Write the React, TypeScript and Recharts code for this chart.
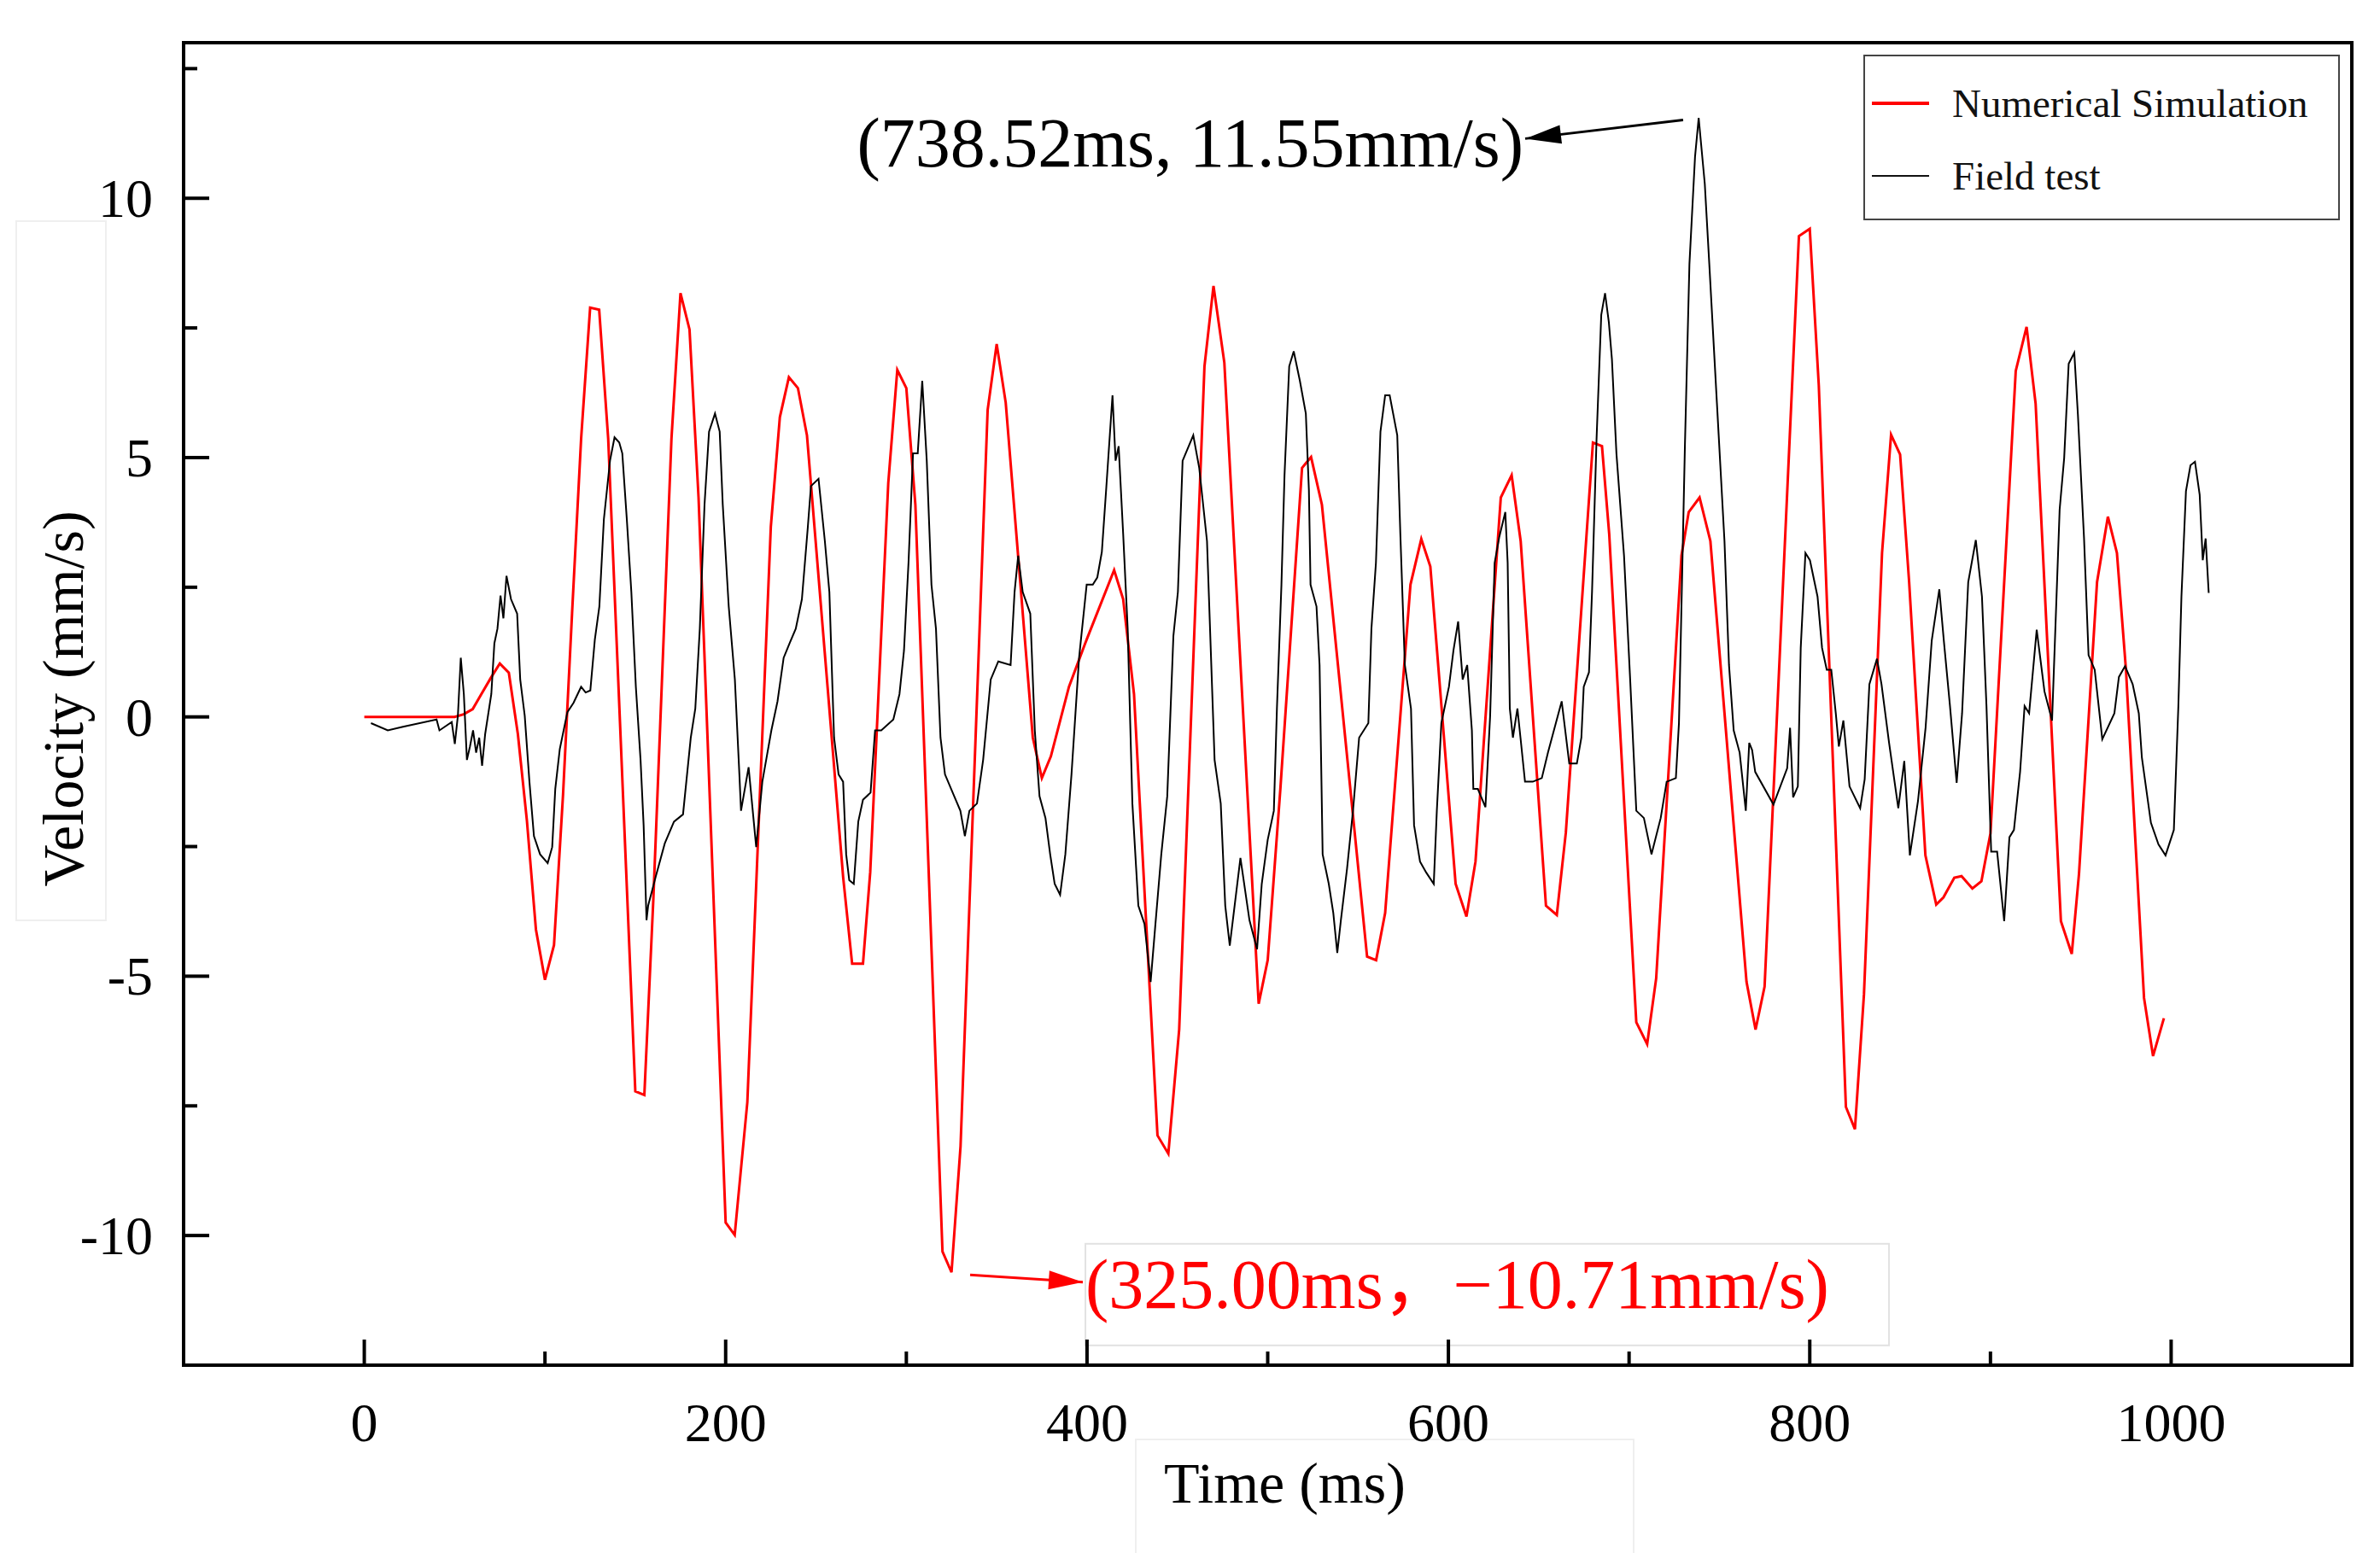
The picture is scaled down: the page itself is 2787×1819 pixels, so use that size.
import React from 'react';
import {
  LineChart,
  Line,
  XAxis,
  YAxis,
  ReferenceArea,
  ReferenceLine,
  Legend,
  Label
} from 'recharts';

// Numerical simulation (red) - time in ms, velocity in mm/s
const simTime = [
  0, 50, 55, 60, 65, 70, 75, 80, 85, 90, 95, 100, 105, 110, 115, 120, 125, 130, 135, 150,
  155, 160, 170, 175, 180, 185, 200, 205, 212, 225, 230, 235, 240, 245, 265, 270, 276, 280, 290, 295,
  300, 305, 320, 325, 330, 345, 350, 355, 370, 375, 380, 390, 399, 415, 420, 426, 439, 445, 451, 465,
  470, 476, 495, 500, 507, 519, 524, 530, 555, 560, 565, 579, 585, 590, 604, 610, 615, 629, 635, 640,
  654, 660, 665, 680, 685, 689, 704, 710, 715, 729, 733, 739, 745, 765, 770, 775, 794, 800, 805, 820,
  825, 830, 840, 845, 850, 855, 864, 870, 874, 880, 884, 890, 895, 900, 914, 920, 925, 939, 945, 949,
  959, 965, 970, 975, 985, 990, 996
];
const simVelocity = [
  0, 0, 0.05, 0.15, 0.45, 0.75, 1.03, 0.85, -0.33, -2.0, -4.1, -5.07, -4.4, -1.5, 2.0, 5.36, 7.89, 7.85, 5.36, -7.22,
  -7.29, -3.5, 5.36, 8.17, 7.47, 4.23, -9.75, -9.99, -7.43, 3.67, 5.78, 6.55, 6.34, 5.43, -3.08, -4.76, -4.76, -3.0, 4.51, 6.69,
  6.34, 4.09, -10.31, -10.71, -8.28, 5.92, 7.19, 6.06, -0.4, -1.18, -0.76, 0.58, 1.42, 2.83, 2.27, 0.44, -8.07, -8.42, -6.03, 6.76,
  8.31, 6.83, -5.53, -4.69, -1.39, 4.8, 5.01, 4.09, -4.62, -4.69, -3.78, 2.55, 3.43, 2.9, -3.22, -3.85, -2.79, 4.23, 4.66, 3.39,
  -3.64, -3.82, -2.23, 5.29, 5.22, 3.53, -5.89, -6.31, -5.04, 3.11, 3.95, 4.23, 3.39, -5.11, -6.03, -5.2, 9.27, 9.41, 6.39, -7.52,
  -7.95, -5.35, 3.16, 5.44, 5.06, 2.6, -2.67, -3.62, -3.48, -3.1, -3.07, -3.31, -3.17, -2.25, 6.67, 7.52, 6.04, -3.94, -4.57, -3.03,
  2.6, 3.86, 3.16, 0.91, -5.42, -6.54, -5.81
];

// Field test (black)
const fieldTime = [
  3.7, 13, 21.4, 40, 41.6, 48.4, 50.1, 51.8, 53.4, 55.1, 56.8, 58.5, 60.2, 61.9, 63.6, 65.2, 66.9, 70.3, 72, 73.7,
  75.4, 77, 78.7, 81.2, 84.6, 86.3, 88.8, 91.4, 93.9, 97.3, 101.5, 104, 105.7, 108.2, 112.4, 115.8, 120, 122.5, 125.1, 127.6,
  130.1, 132.6, 136, 138.5, 141.1, 142.8, 145.3, 147.8, 150.3, 152.9, 154.6, 156.2, 157.1, 161.3, 166.3, 171.4, 176.4, 180.7, 183.2, 185.7,
  188.3, 190.8, 194.1, 196.7, 198.4, 201.7, 205.1, 207.6, 208.5, 212.7, 216.9, 220.3, 225.3, 228.7, 232.1, 235.4, 238.8, 242.2, 245.5, 247.2,
  251.4, 254.9, 257.4, 260, 262.5, 265, 266.7, 268.4, 270.9, 273.4, 276, 280.2, 282.7, 286.1, 292.8, 296.2, 298.7, 301.2, 303.7, 306.3,
  308.8, 311.3, 313.9, 316.4, 318.9, 321.4, 326.5, 329.9, 332.4, 334.9, 339.1, 342.5, 346.7, 350.9, 357.7, 359.9, 361.9, 364.4, 368.6, 371.1,
  373.7, 377, 379.6, 382.1, 385.1, 388, 391.4, 395.6, 399.8, 403.2, 405.7, 408.2, 410.7, 414.1, 415.8, 417.5, 420, 422.5, 425.1, 428.4,
  431.8, 435.2, 437.7, 441.1, 444.4, 447.8, 450.3, 452.9, 458.8, 462.1, 466.4, 470.6, 474, 476.5, 479, 484.9, 489.9, 494.1, 496.7, 500,
  503.4, 505.1, 507.6, 509.3, 511.9, 514.4, 517.8, 521.1, 522.8, 523.7, 527, 528.7, 530.4, 533.8, 536.3, 538.5, 540.5, 543.9, 547.2, 550.6,
  555.7, 557.4, 559.9, 562.4, 565, 567.5, 571.7, 573.4, 575.9, 579.3, 581, 584.3, 587.7, 591.9, 593.6, 596.1, 600.3, 602.8, 605.4, 607.9,
  610.4, 613, 613.8, 616.3, 620.5, 623.1, 625.6, 628.1, 631.5, 632.8, 634, 635.7, 638.2, 639.9, 642.4, 646.7, 651.7, 655.1, 662.7, 666.9,
  671.1, 673.6, 674.9, 677.8, 679.5, 682, 684.6, 686.7, 688.8, 690.5, 693, 697.2, 700.6, 704, 708.2, 712.4, 717.5, 720.8, 725.9, 727.6,
  730.9, 733.4, 736.5, 738.52, 741.9, 744.4, 748.6, 752.8, 755.3, 757.9, 761.2, 764.6, 766.5, 768.1, 769.8, 779.9, 787.5, 789.1, 790.8, 793.4,
  795, 797.6, 800.1, 804.3, 806.8, 809.4, 811.9, 814.4, 816.1, 818.6, 822, 827.9, 830.4, 833, 837.2, 839.7, 843.9, 849, 852.3, 855.4,
  859.9, 864.1, 867.5, 871.7, 874.2, 877.6, 881.3, 884.3, 887.7, 891.9, 895.3, 897.8, 900.4, 903.7, 907.6, 910.5, 913, 916.4, 918.9, 921.4,
  925.6, 929.9, 934.1, 938.3, 940.8, 943.3, 946.4, 948.4, 951.8, 954.3, 957.7, 961.9, 968.6, 971.1, 974.5, 978.7, 982.1, 983.8, 988.8, 993,
  996.9, 1001.5, 1004, 1005.7, 1008.2, 1010.7, 1013.2, 1015.8, 1017.5, 1019.1, 1020.8
];
const fieldVelocity = [
  -0.12, -0.26, -0.19, -0.05, -0.26, -0.1, -0.52, 0.02, 1.14, 0.44, -0.83, -0.57, -0.26, -0.69, -0.4, -0.94, -0.33, 0.44, 1.42, 1.7,
  2.34, 1.9, 2.72, 2.27, 1.99, 0.72, 0.02, -1.25, -2.3, -2.65, -2.82, -2.51, -1.39, -0.62, 0.09, 0.27, 0.58, 0.47, 0.51, 1.49,
  2.13, 3.81, 4.94, 5.39, 5.29, 5.08, 3.81, 2.41, 0.58, -0.83, -2.09, -3.92, -3.64, -3.08, -2.44, -2.02, -1.88, -0.4, 0.16, 1.7,
  4.09, 5.5, 5.85, 5.5, 4.09, 2.13, 0.72, -1.11, -1.81, -0.97, -2.51, -1.25, -0.26, 0.3, 1.14, 1.42, 1.7, 2.27, 3.67, 4.45,
  4.59, 3.39, 2.41, -0.4, -1.11, -1.25, -2.65, -3.15, -3.22, -2.02, -1.6, -1.46, -0.26, -0.26, -0.05, 0.44, 1.28, 2.97, 5.08, 5.08,
  6.48, 4.94, 2.55, 1.7, -0.4, -1.11, -1.53, -1.81, -2.3, -1.81, -1.67, -0.83, 0.72, 1.07, 1.0, 2.41, 3.11, 2.41, 1.99, -0.26,
  -1.53, -1.95, -2.65, -3.22, -3.43, -2.65, -1.11, 1.14, 2.55, 2.55, 2.69, 3.18, 4.44, 6.2, 4.94, 5.22, 3.53, 1.7, -1.67, -3.64,
  -3.99, -5.11, -4.06, -2.65, -1.53, 1.56, 2.41, 4.94, 5.43, 4.8, 3.39, -0.83, -1.67, -3.64, -4.41, -2.72, -3.92, -4.48, -3.22, -2.37,
  -1.81, 0.16, 2.55, 4.66, 6.76, 7.05, 6.48, 5.85, 4.37, 2.55, 2.13, 1.0, -2.65, -3.22, -3.78, -4.55, -3.92, -2.93, -1.81, -0.4,
  -0.12, 1.7, 2.97, 5.5, 6.2, 6.2, 5.43, 3.53, 1.0, 0.16, -2.09, -2.79, -3.0, -3.22, -1.81, -0.12, 0.58, 1.28, 1.84, 0.72,
  1.0, -0.26, -1.39, -1.39, -1.74, 0.02, 2.97, 3.46, 3.95, 2.97, 0.16, -0.4, 0.16, -0.4, -1.25, -1.25, -1.18, -0.69, 0.3, -0.9,
  -0.9, -0.4, 0.58, 0.86, 2.41, 5.36, 7.75, 8.17, 7.61, 6.9, 5.08, 3.11, 0.72, -1.81, -1.95, -2.65, -1.95, -1.25, -1.18, -0.12,
  5.22, 8.73, 10.8, 11.55, 10.28, 8.73, 6.06, 3.39, 1.0, -0.26, -0.69, -1.81, -0.5, -0.64, -1.06, -1.69, -0.99, -0.21, -1.55, -1.34,
  1.33, 3.16, 3.02, 2.32, 1.33, 0.91, 0.91, 0.07, -0.57, -0.07, -1.34, -1.76, -1.2, 0.63, 1.12, 0.63, -0.5, -1.76, -0.85, -2.67,
  -1.62, -0.21, 1.47, 2.46, 1.47, 0.21, -1.27, 0.07, 2.6, 3.41, 2.32, 0.21, -2.6, -2.6, -3.94, -2.32, -2.18, -1.06, 0.21, 0.07,
  1.68, 0.49, -0.07, 4.0, 4.99, 6.81, 7.02, 5.83, 3.44, 1.19, 0.91, -0.43, 0.07, 0.77, 0.98, 0.63, 0.07, -0.78, -2.04, -2.46,
  -2.67, -2.18, 0.21, 2.32, 4.35, 4.85, 4.92, 4.28, 3.02, 3.44, 2.39
];

const xTicks = [0, 100, 200, 300, 400, 500, 600, 700, 800, 900, 1000];
const yTicks = [-10, -7.5, -5, -2.5, 0, 2.5, 5, 7.5, 10, 12.5];

// annotation arrows: [tail, tip] in data units
const peakArrow = [{ x: 729.9, y: 11.51 }, { x: 642.5, y: 11.15 }];
const troughArrow = [{ x: 335.3, y: -10.76 }, { x: 397.7, y: -10.9 }];
const peakText = '(738.52ms, 11.55mm/s)';
const troughText = '(325.00ms，−10.71mm/s)';

const legendItems = [
  { name: 'Numerical Simulation', color: '#ff0000', width: 4 },
  { name: 'Field test', color: '#111', width: 2 }
];

const simData = simTime.map((t, i) => ({ t, v: simVelocity[i] }));
const fieldData = fieldTime.map((t, i) => ({ t, v: fieldVelocity[i] }));

const serif = "'Liberation Serif', 'Times New Roman', 'Noto Sans CJK SC', serif";

const renderXTick = (props: any) => {
  const { x, y, payload } = props;
  const major = payload.value % 200 === 0;
  return (
    <g>
      <line x1={x} x2={x} y1={y} y2={y - (major ? 30 : 16)} stroke="#000" strokeWidth={4} />
      {major && (
        <text x={x} y={y + 89} textAnchor="middle" fontSize={64} fontFamily={serif} fill="#000">
          {payload.value}
        </text>
      )}
    </g>
  );
};

const renderYTick = (props: any) => {
  const { x, y, payload } = props;
  const major = payload.value % 5 === 0;
  return (
    <g>
      <line x1={x} x2={x + (major ? 30 : 16)} y1={y} y2={y} stroke="#000" strokeWidth={4} />
      {major && (
        <text x={x - 36} y={y} dy={22} textAnchor="end" fontSize={64} fontFamily={serif} fill="#000">
          {payload.value}
        </text>
      )}
    </g>
  );
};

const renderYTitle = (props: any) => {
  const { x, y, height } = props.viewBox;
  const cx = x + 75;
  const cy = y + height / 2 - 6;
  return (
    <text x={cx} y={cy} transform={`rotate(-90 ${cx} ${cy})`} textAnchor="middle" dy={22}
      fontSize={68} fontFamily={serif} fill="#000">
      Velocity (mm/s)
    </text>
  );
};

const renderXTitle = (props: any) => {
  const { x, y, width } = props.viewBox;
  return (
    <text x={x + width / 2 + 20} y={y + 161} textAnchor="middle" fontSize={68} fontFamily={serif} fill="#000">
      Time (ms)
    </text>
  );
};

const headPoints = (x1: number, y1: number, x2: number, y2: number, len: number, half: number) => {
  const a = Math.atan2(y2 - y1, x2 - x1);
  const bx = x2 - len * Math.cos(a);
  const by = y2 - len * Math.sin(a);
  const px = -Math.sin(a) * half;
  const py = Math.cos(a) * half;
  return `${x2},${y2} ${bx + px},${by + py} ${bx - px},${by - py}`;
};

const PeakArrow = (props: any) => {
  const { x1, y1, x2, y2 } = props;
  return (
    <g>
      <line x1={x1} y1={y1} x2={x2} y2={y2} stroke="#000" strokeWidth={3} />
      <polygon points={headPoints(x1, y1, x2, y2, 42, 11)} fill="#000" />
      <text x={x2 - 2} y={y2 + 33} textAnchor="end" fontSize={82} fontFamily={serif} fill="#000">
        {peakText}
      </text>
    </g>
  );
};

const TroughArrow = (props: any) => {
  const { x1, y1, x2, y2 } = props;
  return (
    <g>
      <rect x={x2 + 3} y={y2 - 45} width={941} height={119} fill="none" stroke="#e2e2e2" strokeWidth={2} />
      <line x1={x1} y1={y1} x2={x2} y2={y2} stroke="#ff0000" strokeWidth={3} />
      <polygon points={headPoints(x1, y1, x2, y2, 40, 11)} fill="#ff0000" />
      <text x={x2 + 3} y={y2 + 30} textAnchor="start" fontSize={82} fontFamily={serif} fill="#ff0000">
        {troughText}
      </text>
    </g>
  );
};

const renderLegend = () => (
  <div style={{
    width: 558, height: 194, boxSizing: 'border-box', border: '2px solid #444',
    background: '#fff', position: 'relative', fontFamily: serif
  }}>
    {legendItems.map((item, i) => (
      <div key={item.name} style={{ position: 'absolute', left: 8, top: 55 + i * 85 - 30, height: 60, display: 'flex', alignItems: 'center' }}>
        <div style={{ width: 67, height: item.width, background: item.color }} />
        <span style={{ marginLeft: 27, fontSize: 47, color: '#111', whiteSpace: 'nowrap' }}>{item.name}</span>
      </div>
    ))}
  </div>
);

export default function App() {
  return (
    <div style={{ position: 'absolute', left: 0, top: 0, width: 2787, height: 1819, background: '#fff' }}>
      {/* faint text-box outlines around the axis titles */}
      <div style={{ position: 'absolute', left: 18, top: 258, width: 103, height: 817, border: '2px solid #efefef' }} />
      <div style={{ position: 'absolute', left: 1329, top: 1685, width: 581, height: 140, border: '2px solid #efefef' }} />
      <LineChart width={2787} height={1819} data={simData} margin={{ top: 50, right: 33, bottom: 0, left: 0 }}>
        <XAxis
          type="number"
          dataKey="t"
          domain={[-100, 1100]}
          ticks={xTicks}
          interval={0}
          allowDataOverflow
          height={220}
          tickSize={0}
          tickMargin={0}
          axisLine={false}
          tickLine={false}
          tick={renderXTick}
        >
          <Label content={renderXTitle} />
        </XAxis>
        <YAxis
          type="number"
          dataKey="v"
          domain={[-12.5, 13]}
          ticks={yTicks}
          interval={0}
          allowDataOverflow
          width={215}
          tickSize={0}
          tickMargin={0}
          axisLine={false}
          tickLine={false}
          tick={renderYTick}
        >
          <Label content={renderYTitle} />
        </YAxis>
        <ReferenceArea x1={-100} x2={1100} y1={-12.5} y2={13} fill="none" stroke="#000" strokeWidth={4} fillOpacity={0} />
        <Line
          data={simData}
          dataKey="v"
          name="Numerical Simulation"
          type="linear"
          stroke="#ff0000"
          strokeWidth={3}
          dot={false}
          activeDot={false}
          isAnimationActive={false}
        />
        <Line
          data={fieldData}
          dataKey="v"
          name="Field test"
          type="linear"
          stroke="#000"
          strokeWidth={2}
          dot={false}
          activeDot={false}
          isAnimationActive={false}
        />
        <ReferenceLine segment={peakArrow} shape={PeakArrow} stroke="#000" />
        <ReferenceLine segment={troughArrow} shape={TroughArrow} stroke="#ff0000" />
        <Legend
          layout="horizontal"
          verticalAlign="middle"
          align="center"
          content={renderLegend}
          wrapperStyle={{ position: 'absolute', left: 2182, top: 64, width: 558, height: 194 }}
        />
      </LineChart>
    </div>
  );
}
